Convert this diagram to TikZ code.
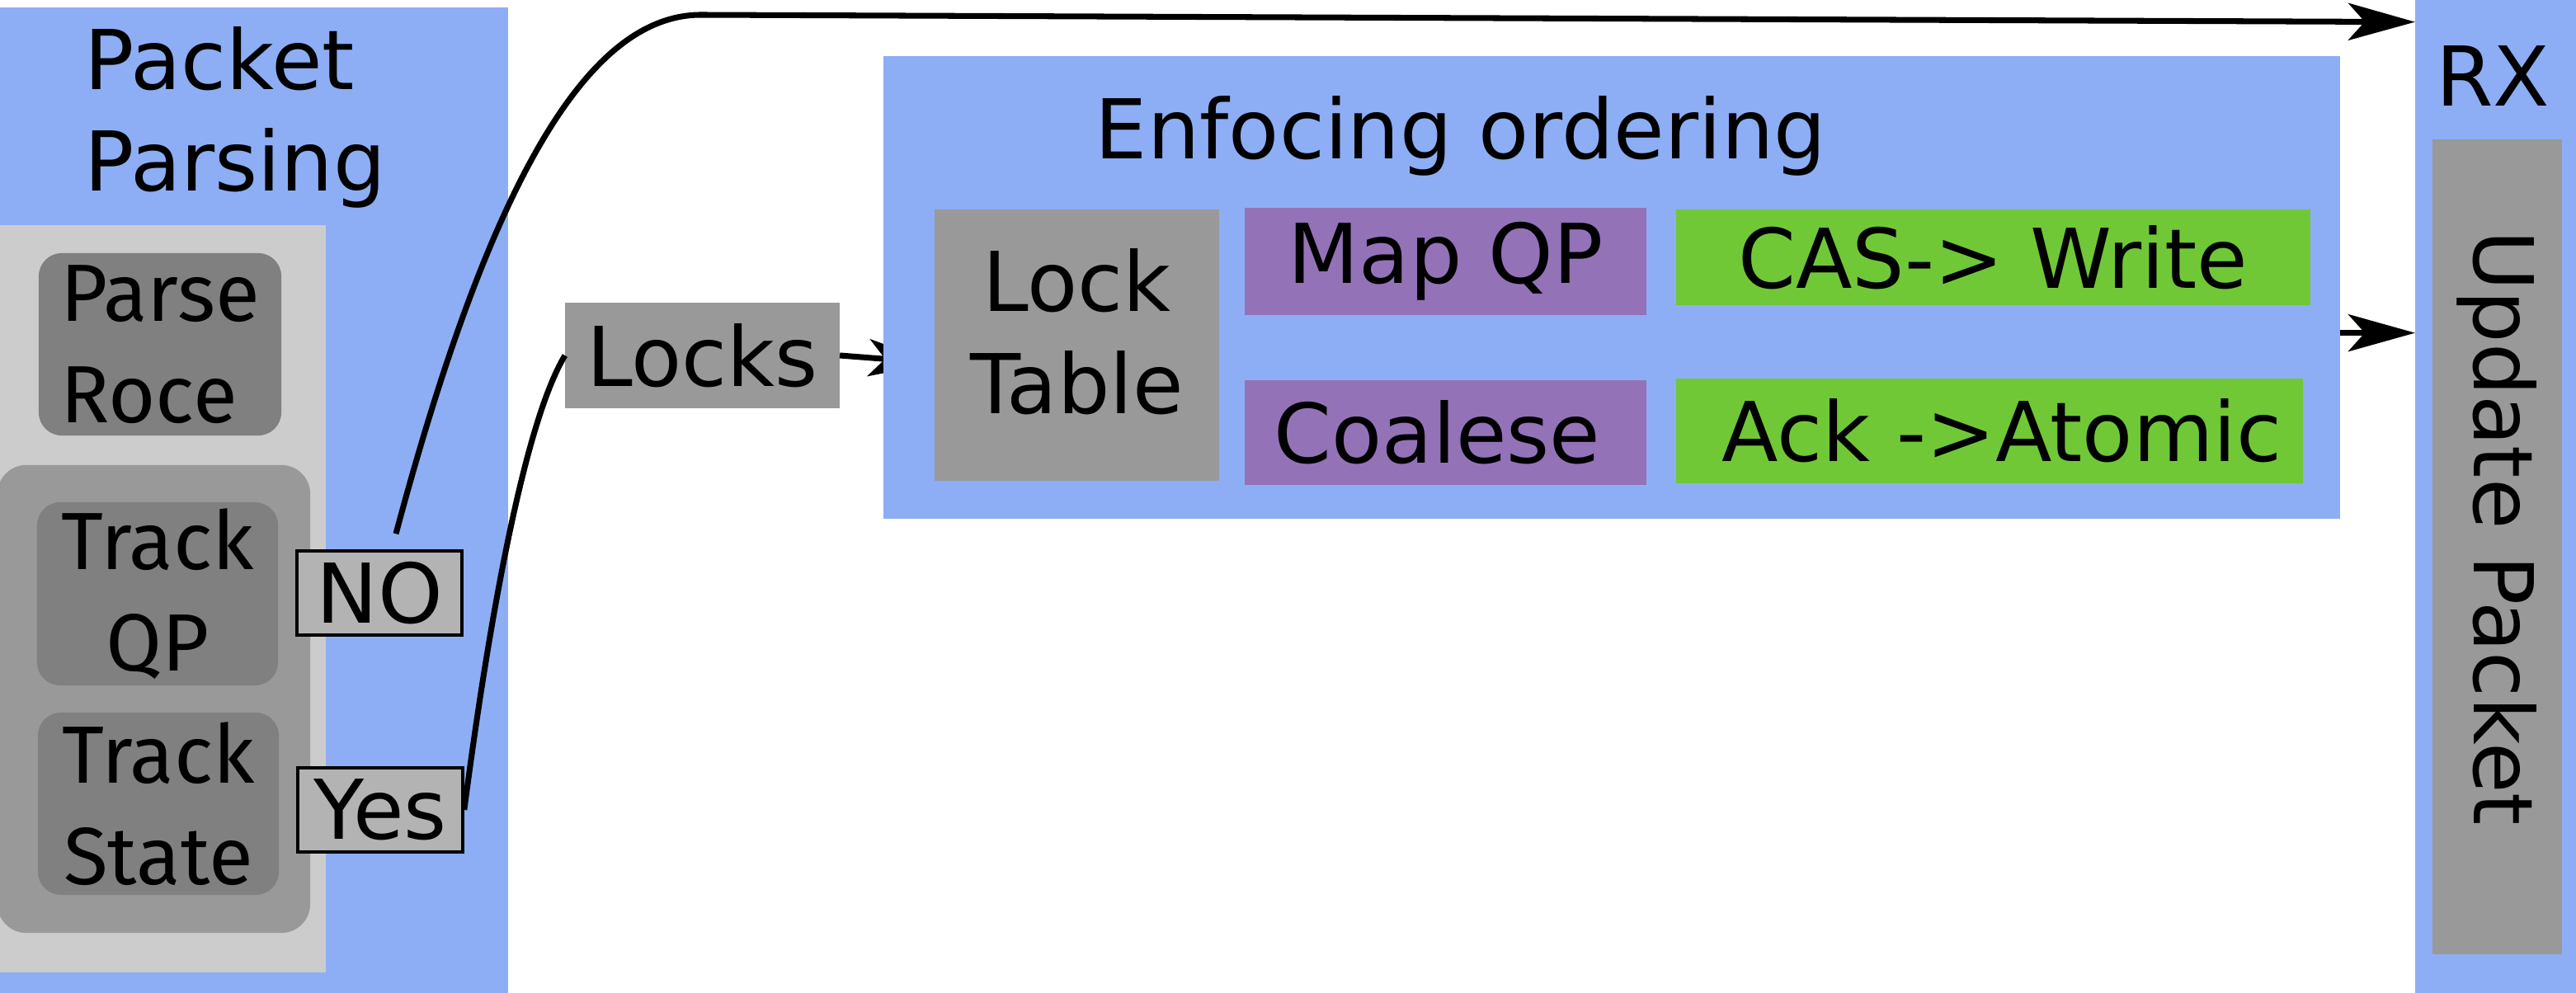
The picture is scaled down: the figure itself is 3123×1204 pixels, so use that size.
\documentclass[tikz,border=0pt]{standalone}
\usepackage{fontspec}
\setmainfont{DejaVu Sans}
\newfontfamily\stagefont{Fira Sans}
\usetikzlibrary{positioning, calc, arrows.meta}
\definecolor{panelblue}{HTML}{8DAEF4}
\definecolor{stagegray}{HTML}{CCCCCC}
\definecolor{groupgray}{HTML}{999999}
\definecolor{darkgray}{HTML}{808080}
\definecolor{flaggray}{HTML}{B3B3B3}
\definecolor{mappurple}{HTML}{9472B8}
\definecolor{opgreen}{HTML}{71C837}

\begin{document}
\begin{tikzpicture}[
        x=0.01cm, y=-0.01cm,
        font=\fontsize{28.45pt}{35pt}\selectfont,
        panel/.style={rectangle, fill=panelblue, inner sep=0pt, outer sep=0pt},
        block/.style={rectangle, fill=#1, inner sep=0pt, outer sep=0pt, align=center},
        rblock/.style={block=#1, rounded corners=0.28cm, font=\stagefont\fontsize{28pt}{35pt}\selectfont},
        flag/.style={rectangle, draw=black, line width=1pt, fill=flaggray, inner sep=0pt, minimum width=2cm, minimum height=1.02cm},
        link/.style={line width=2pt, draw=black},
        arrow/.style={link, -{Stealth[length=0.81cm, width=0.45cm, inset=0.2cm]}}
    ]
        \useasboundingbox (0,0) rectangle (3123,1204);

        % parsing side
        \node[panel, minimum width=6.21cm, minimum height=12.01cm] (parsing) at (305.5,609.5) {};
        \node[align=left, inner sep=0pt] (parsingtitle) at (285,142) {Packet\\Parsing};
        \node[block=stagegray, minimum width=4cm, minimum height=9.06cm] (stages) at (195,726) {};
        \node[rblock=groupgray, rounded corners=0.35cm, minimum width=3.79cm, minimum height=5.67cm] (trackgroup) at (186.5,847.5) {};
        \node[rblock=darkgray, align=left, minimum width=2.94cm, minimum height=2.21cm] (parseroce) at (194,417.5) {Parse\\Roce};
        \node[rblock=darkgray, minimum width=2.92cm, minimum height=2.22cm] (trackqp) at (191,720) {Track\\QP};
        \node[rblock=darkgray, minimum width=2.92cm, minimum height=2.21cm] (trackstate) at (192,974.5) {Track\\State};
        \node[flag] (no) at (460,719) {NO};
        \node[flag] (yes) at (461,982) {Yes};

        % locks
        \node[block=groupgray, minimum width=3.33cm, minimum height=1.28cm] (locks) at (851.5,431) {Locks};
        \coordinate (lockin) at (1134,440);
        \draw[arrow] (locks.east) -- (lockin);

        % rx side
        \node[panel, minimum width=2.02cm, minimum height=12.1cm] (rx) at (3029,605) {};
        \node[anchor=base, inner sep=0pt] (rxtitle) at (3022,129) {RX};
        \node[block=groupgray, rotate=-90, minimum width=9.88cm, minimum height=1.57cm] (update) at (3027.5,663) {Update Packet\hspace{0.46cm}};
        \coordinate (rxtop) at ($(rx.north west)+(0,27)$);
        \coordinate (rxmid) at ($(rx.north west)+(0,404)$);

        % ordering
        \node[panel, minimum width=17.64cm, minimum height=5.61cm] (order) at (1954,348.5) {};
        \node[anchor=base, inner sep=0pt] (ordertitle) at (1771,193) {Enfocing ordering};
        \node[block=groupgray, minimum width=3.45cm, minimum height=3.29cm] (locktable) at (1305.5,418.5) {Lock\\Table\rule[-0.34cm]{0pt}{0pt}};
        \node[block=mappurple, minimum width=4.87cm, minimum height=1.30cm] (mapqp) at (1752.5,317) {Map QP};
        \node[block=mappurple, minimum width=4.87cm, minimum height=1.27cm] (coalese) at (1752.5,524.5) {Coalese\hspace{0.2cm}};
        \node[block=opgreen, minimum width=7.69cm, minimum height=1.16cm] (caswrite) at (2416.5,312) {CAS-> Write};
        \node[block=opgreen, minimum width=7.60cm, minimum height=1.27cm] (ackatomic) at (2412,522.5) {\hspace{0.3cm}Ack ->Atomic};

        % connectors
        \draw[arrow] ($(no.north)+(20,-19)$) .. controls +(120,-449) and +(-130,0) .. (850,18) -- (rxtop);
        \draw[link] (yes.east) .. controls +(29,-222) and +(-50,83) .. (locks.west);
        \draw[arrow] (order.east |- rxmid) -- (rxmid);
    \end{tikzpicture}
\end{document}
